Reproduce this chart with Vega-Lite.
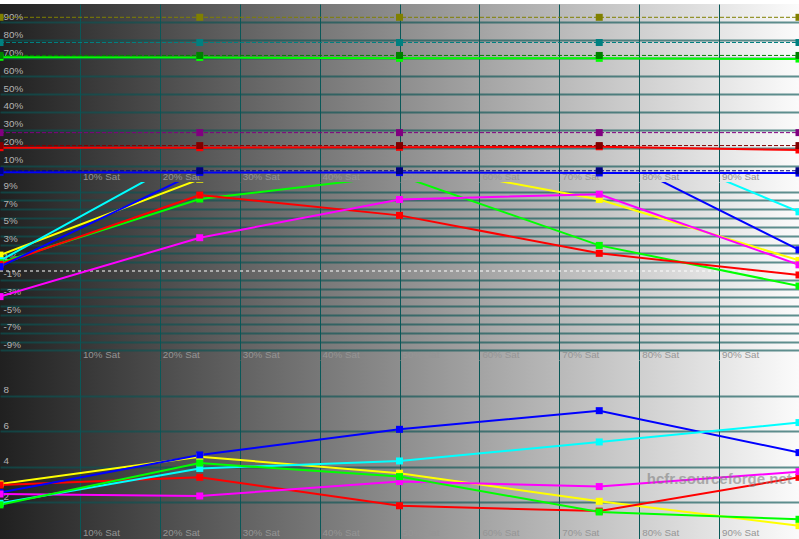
{
  "$schema": "https://vega.github.io/schema/vega-lite/v6.json",
  "background": "#ffffff",
  "padding": {"top": 4, "left": 0, "right": 0, "bottom": 0},
  "spacing": 0,
  "bounds": "flush",
  "config": {
    "view": {"stroke": null},
    "font": "Liberation Sans",
    "axis": {"domain": false, "ticks": false, "tickSize": 0, "title": null, "labelFont": "Liberation Sans", "labelFontSize": 9.8, "grid": true, "labelOverlap": false, "labelFlush": false, "labelBound": false},
    "axisX": {"gridColor": "#0a5858", "gridWidth": 1, "gridOpacity": 1, "labelColor": "#959595", "labelAlign": "left", "labelBaseline": "alphabetic", "labelPadding": -2.5, "labelOffset": 2.5, "labelAngle": 0},
    "axisY": {"gridColor": "#0a5555", "gridWidth": 2, "gridOpacity": 0.65, "labelColor": "#b4b4b4", "labelAlign": "left", "labelBaseline": "alphabetic", "labelPadding": -3, "labelOffset": -3}
  },
  "datasets": {
    "lum": [
      {"sat": 0, "series": "Yellow ref", "kind": "ref", "v": 92.78},
      {"sat": 25, "series": "Yellow ref", "kind": "ref", "v": 92.78},
      {"sat": 50, "series": "Yellow ref", "kind": "ref", "v": 92.78},
      {"sat": 75, "series": "Yellow ref", "kind": "ref", "v": 92.78},
      {"sat": 100, "series": "Yellow ref", "kind": "ref", "v": 92.78},
      {"sat": 0, "series": "Cyan ref", "kind": "ref", "v": 78.73},
      {"sat": 25, "series": "Cyan ref", "kind": "ref", "v": 78.73},
      {"sat": 50, "series": "Cyan ref", "kind": "ref", "v": 78.73},
      {"sat": 75, "series": "Cyan ref", "kind": "ref", "v": 78.73},
      {"sat": 100, "series": "Cyan ref", "kind": "ref", "v": 78.73},
      {"sat": 0, "series": "Green ref", "kind": "ref", "v": 71.52},
      {"sat": 25, "series": "Green ref", "kind": "ref", "v": 71.52},
      {"sat": 50, "series": "Green ref", "kind": "ref", "v": 71.52},
      {"sat": 75, "series": "Green ref", "kind": "ref", "v": 71.52},
      {"sat": 100, "series": "Green ref", "kind": "ref", "v": 71.52},
      {"sat": 0, "series": "Magenta ref", "kind": "ref", "v": 28.48},
      {"sat": 25, "series": "Magenta ref", "kind": "ref", "v": 28.48},
      {"sat": 50, "series": "Magenta ref", "kind": "ref", "v": 28.48},
      {"sat": 75, "series": "Magenta ref", "kind": "ref", "v": 28.48},
      {"sat": 100, "series": "Magenta ref", "kind": "ref", "v": 28.48},
      {"sat": 0, "series": "Red ref", "kind": "ref", "v": 21.26},
      {"sat": 25, "series": "Red ref", "kind": "ref", "v": 21.26},
      {"sat": 50, "series": "Red ref", "kind": "ref", "v": 21.26},
      {"sat": 75, "series": "Red ref", "kind": "ref", "v": 21.26},
      {"sat": 100, "series": "Red ref", "kind": "ref", "v": 21.26},
      {"sat": 0, "series": "Blue ref", "kind": "ref", "v": 7.22},
      {"sat": 25, "series": "Blue ref", "kind": "ref", "v": 7.22},
      {"sat": 50, "series": "Blue ref", "kind": "ref", "v": 7.22},
      {"sat": 75, "series": "Blue ref", "kind": "ref", "v": 7.22},
      {"sat": 100, "series": "Blue ref", "kind": "ref", "v": 7.22},
      {"sat": 0, "series": "Green", "kind": "meas", "v": 70.5},
      {"sat": 25, "series": "Green", "kind": "meas", "v": 70.4},
      {"sat": 50, "series": "Green", "kind": "meas", "v": 69.9},
      {"sat": 75, "series": "Green", "kind": "meas", "v": 69.9},
      {"sat": 100, "series": "Green", "kind": "meas", "v": 69.5},
      {"sat": 0, "series": "Red", "kind": "meas", "v": 20.1},
      {"sat": 25, "series": "Red", "kind": "meas", "v": 20.1},
      {"sat": 50, "series": "Red", "kind": "meas", "v": 20.3},
      {"sat": 75, "series": "Red", "kind": "meas", "v": 20.6},
      {"sat": 100, "series": "Red", "kind": "meas", "v": 18.8},
      {"sat": 0, "series": "Blue", "kind": "meas", "v": 6.4},
      {"sat": 25, "series": "Blue", "kind": "meas", "v": 6.3},
      {"sat": 50, "series": "Blue", "kind": "meas", "v": 6.2},
      {"sat": 75, "series": "Blue", "kind": "meas", "v": 6.0},
      {"sat": 100, "series": "Blue", "kind": "meas", "v": 5.9}
    ],
    "shift": [
      {"sat": 0, "series": "Yellow", "v": 1.8},
      {"sat": 25, "series": "Yellow", "v": 10.4},
      {"sat": 50, "series": "Yellow", "v": 12.3},
      {"sat": 75, "series": "Yellow", "v": 8.1},
      {"sat": 100, "series": "Yellow", "v": 1.2},
      {"sat": 0, "series": "Cyan", "v": 1.17},
      {"sat": 25, "series": "Cyan", "v": 13.6},
      {"sat": 50, "series": "Cyan", "v": 16.5},
      {"sat": 75, "series": "Cyan", "v": 16.2},
      {"sat": 100, "series": "Cyan", "v": 6.7},
      {"sat": 0, "series": "Green", "v": 0.94},
      {"sat": 25, "series": "Green", "v": 8.15},
      {"sat": 50, "series": "Green", "v": 10.8},
      {"sat": 75, "series": "Green", "v": 2.9},
      {"sat": 100, "series": "Green", "v": -1.7},
      {"sat": 0, "series": "Red", "v": 0.76},
      {"sat": 25, "series": "Red", "v": 8.6},
      {"sat": 50, "series": "Red", "v": 6.3},
      {"sat": 75, "series": "Red", "v": 2.0},
      {"sat": 100, "series": "Red", "v": -0.45},
      {"sat": 0, "series": "Blue", "v": 0.49},
      {"sat": 25, "series": "Blue", "v": 11.3},
      {"sat": 50, "series": "Blue", "v": 14.0},
      {"sat": 75, "series": "Blue", "v": 13.7},
      {"sat": 100, "series": "Blue", "v": 2.4},
      {"sat": 0, "series": "Magenta", "v": -2.9},
      {"sat": 25, "series": "Magenta", "v": 3.77},
      {"sat": 50, "series": "Magenta", "v": 8.1},
      {"sat": 75, "series": "Magenta", "v": 8.7},
      {"sat": 100, "series": "Magenta", "v": 0.7}
    ],
    "zero": [
      {"sat": 0, "v": 0},
      {"sat": 100, "v": 0}
    ],
    "de": [
      {"sat": 0, "series": "Yellow", "v": 3.03},
      {"sat": 25, "series": "Yellow", "v": 4.56},
      {"sat": 50, "series": "Yellow", "v": 3.63},
      {"sat": 75, "series": "Yellow", "v": 2.05},
      {"sat": 100, "series": "Yellow", "v": 0.68},
      {"sat": 0, "series": "Red", "v": 2.97},
      {"sat": 25, "series": "Red", "v": 3.4},
      {"sat": 50, "series": "Red", "v": 1.8},
      {"sat": 75, "series": "Red", "v": 1.5},
      {"sat": 100, "series": "Red", "v": 3.4},
      {"sat": 0, "series": "Blue", "v": 2.54},
      {"sat": 25, "series": "Blue", "v": 4.66},
      {"sat": 50, "series": "Blue", "v": 6.1},
      {"sat": 75, "series": "Blue", "v": 7.15},
      {"sat": 100, "series": "Blue", "v": 4.79},
      {"sat": 0, "series": "Magenta", "v": 2.46},
      {"sat": 25, "series": "Magenta", "v": 2.35},
      {"sat": 50, "series": "Magenta", "v": 3.16},
      {"sat": 75, "series": "Magenta", "v": 2.88},
      {"sat": 100, "series": "Magenta", "v": 3.72},
      {"sat": 0, "series": "Cyan", "v": 1.94},
      {"sat": 25, "series": "Cyan", "v": 3.9},
      {"sat": 50, "series": "Cyan", "v": 4.32},
      {"sat": 75, "series": "Cyan", "v": 5.39},
      {"sat": 100, "series": "Cyan", "v": 6.48},
      {"sat": 0, "series": "Green", "v": 1.85},
      {"sat": 25, "series": "Green", "v": 4.2},
      {"sat": 50, "series": "Green", "v": 3.44},
      {"sat": 75, "series": "Green", "v": 1.45},
      {"sat": 100, "series": "Green", "v": 1.04}
    ],
    "mark": [
      {"label": "hcfr.sourceforge.net", "sat": 99.1, "v": 3.3}
    ]
  },
  "vconcat": [
    {
      "width": 799,
      "height": 178,
      "view": {"stroke": null, "fill": {"gradient": "linear", "x1": 0, "y1": 0, "x2": 1, "y2": 0, "stops": [{"offset": 0, "color": "#202020"}, {"offset": 1, "color": "#fbfbfb"}]}},
      "data": {"name": "lum"},
      "encoding": {
        "x": {"field": "sat", "type": "quantitative", "scale": {"domain": [0, 100], "nice": false, "zero": false}, "axis": {"values": [10, 20, 30, 40, 50, 60, 70, 80, 90], "labelExpr": "datum.value + '% Sat'"}},
        "y": {"field": "v", "type": "quantitative", "scale": {"domain": [0.95, 100.2], "nice": false, "zero": false}, "axis": {"values": [10, 20, 30, 40, 50, 60, 70, 80, 90], "labelExpr": "datum.value + '%'"}},
        "color": {"field": "series", "type": "nominal", "legend": null, "scale": {"domain": ["Red", "Green", "Blue", "Yellow", "Cyan", "Magenta", "Red ref", "Green ref", "Blue ref", "Yellow ref", "Cyan ref", "Magenta ref"], "range": ["#ff0000", "#00ff00", "#0000ff", "#ffff00", "#00ffff", "#ff00ff", "#800000", "#008000", "#000080", "#808000", "#008080", "#800080"]}}
      },
      "layer": [
        {"transform": [{"filter": "datum.kind == 'meas'"}], "mark": {"type": "line", "strokeWidth": 2, "clip": true}},
        {"transform": [{"filter": "datum.kind == 'ref'"}], "mark": {"type": "line", "strokeWidth": 1, "strokeDash": [4, 2], "clip": true}},
        {"transform": [{"filter": "datum.kind == 'meas'"}], "mark": {"type": "square", "size": 49, "opacity": 1, "clip": true}},
        {"transform": [{"filter": "datum.kind == 'ref'"}], "mark": {"type": "square", "size": 49, "opacity": 1, "clip": true}}
      ]
    },
    {
      "width": 799,
      "height": 178,
      "view": {"stroke": null, "fill": {"gradient": "linear", "x1": 0, "y1": 0, "x2": 1, "y2": 0, "stops": [{"offset": 0, "color": "#202020"}, {"offset": 1, "color": "#fbfbfb"}]}},
      "data": {"name": "shift"},
      "encoding": {
        "x": {"field": "sat", "type": "quantitative", "scale": {"domain": [0, 100], "nice": false, "zero": false}, "axis": {"values": [10, 20, 30, 40, 50, 60, 70, 80, 90], "labelExpr": "datum.value + '% Sat'"}},
        "y": {"field": "v", "type": "quantitative", "scale": {"domain": [-10.08, 10.08], "nice": false, "zero": false}, "axis": {"values": [-9, -8, -7, -6, -5, -4, -3, -2, -1, 1, 2, 3, 4, 5, 6, 7, 8, 9], "labelExpr": "(datum.value == -9 || datum.value == -7 || datum.value == -5 || datum.value == -3 || datum.value == -1 || datum.value == 1 || datum.value == 3 || datum.value == 5 || datum.value == 7 || datum.value == 9) ? datum.value + '%' : ''"}},
        "color": {"field": "series", "type": "nominal", "legend": null, "scale": {"domain": ["Red", "Green", "Blue", "Yellow", "Cyan", "Magenta", "Red ref", "Green ref", "Blue ref", "Yellow ref", "Cyan ref", "Magenta ref"], "range": ["#ff0000", "#00ff00", "#0000ff", "#ffff00", "#00ffff", "#ff00ff", "#800000", "#008000", "#000080", "#808000", "#008080", "#800080"]}}
      },
      "layer": [
        {"data": {"name": "zero"}, "mark": {"type": "line", "strokeWidth": 1, "strokeDash": [3, 3], "clip": true}, "encoding": {"color": {"value": "#ffffff"}}},
        {"mark": {"type": "line", "strokeWidth": 2, "clip": true}},
        {"mark": {"type": "square", "size": 49, "opacity": 1, "clip": true}}
      ]
    },
    {
      "width": 799,
      "height": 179,
      "view": {"stroke": null, "fill": {"gradient": "linear", "x1": 0, "y1": 0, "x2": 1, "y2": 0, "stops": [{"offset": 0, "color": "#202020"}, {"offset": 1, "color": "#fbfbfb"}]}},
      "data": {"name": "de"},
      "encoding": {
        "x": {"field": "sat", "type": "quantitative", "scale": {"domain": [0, 100], "nice": false, "zero": false}, "axis": {"values": [10, 20, 30, 40, 50, 60, 70, 80, 90], "labelExpr": "datum.value + '% Sat'", "labelPadding": -3.3}},
        "y": {"field": "v", "type": "quantitative", "scale": {"domain": [-0.07, 10], "nice": false, "zero": false}, "axis": {"values": [2, 4, 6, 8], "labelExpr": "datum.value + ''"}},
        "color": {"field": "series", "type": "nominal", "legend": null, "scale": {"domain": ["Red", "Green", "Blue", "Yellow", "Cyan", "Magenta", "Red ref", "Green ref", "Blue ref", "Yellow ref", "Cyan ref", "Magenta ref"], "range": ["#ff0000", "#00ff00", "#0000ff", "#ffff00", "#00ffff", "#ff00ff", "#800000", "#008000", "#000080", "#808000", "#008080", "#800080"]}}
      },
      "layer": [
        {"mark": {"type": "line", "strokeWidth": 2, "clip": true}},
        {"mark": {"type": "square", "size": 49, "opacity": 1, "clip": true}},
        {
          "data": {"name": "mark"},
          "mark": {"type": "text", "align": "right", "baseline": "middle", "fontSize": 15, "fontWeight": "bold", "font": "Liberation Sans", "opacity": 0.55},
          "encoding": {
            "color": {"value": "#7a7a7a"},
            "text": {"field": "label"}
          }
        }
      ]
    }
  ]
}
